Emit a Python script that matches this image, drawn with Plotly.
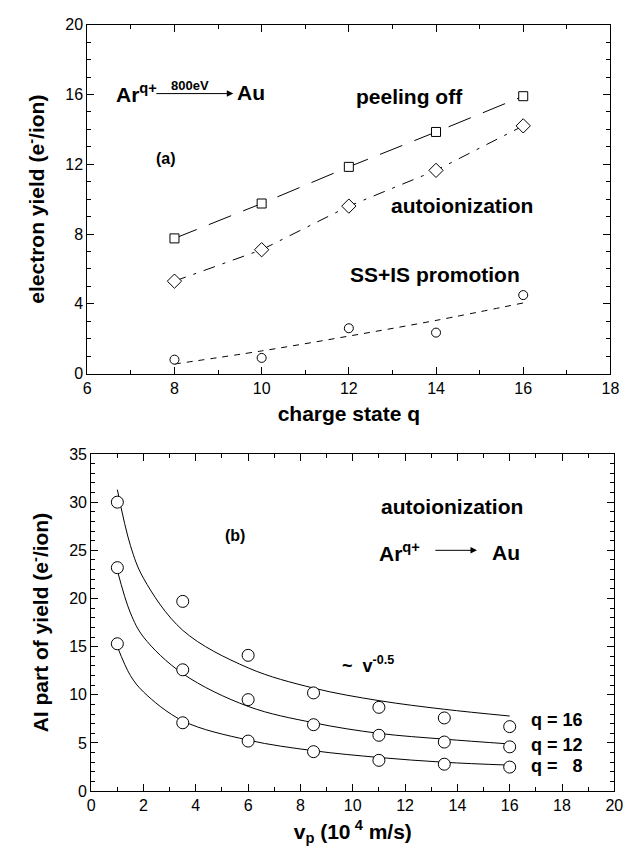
import plotly.graph_objects as go

# ---- data: panel (a) ----
q = [8, 10, 12, 14, 16]
peeling = [7.75, 9.75, 11.85, 13.85, 15.9]
autoion = [5.3, 7.1, 9.6, 11.65, 14.2]
ss_is = [0.8, 0.9, 2.6, 2.35, 4.5]
ss_fit = [0.55, 1.3, 2.15, 3.05, 4.05]

# ---- data: panel (b) ----
vp = [1, 3.5, 6, 8.5, 11, 13.5, 16]
ai_q16 = [30.0, 19.7, 14.1, 10.2, 8.7, 7.6, 6.7]
ai_q12 = [23.2, 12.6, 9.5, 6.9, 5.8, 5.1, 4.6]
ai_q8 = [15.3, 7.1, 5.2, 4.1, 3.2, 2.8, 2.5]
fit_v = [1, 1.5, 2, 3.5, 6, 8.5, 11, 13.5, 16]
fit_q16 = [31.3, 25.5, 22.1, 16.7, 12.8, 10.7, 9.4, 8.5, 7.8]
fit_q12 = [22.9, 18.5, 16.0, 12.2, 8.8, 7.1, 6.0, 5.4, 4.9]
fit_q8 = [15.0, 12.0, 10.3, 7.3, 5.3, 4.2, 3.5, 3.0, 2.7]

FONT = "Liberation Sans, Arial, sans-serif"
W, H = 639, 858

fig = go.Figure()

def mk(symbol, size):
    return dict(symbol=symbol, size=size, color="white", line=dict(color="black", width=1))

# panel (a)
fig.add_trace(go.Scatter(x=q, y=peeling, mode="lines+markers", xaxis="x", yaxis="y",
                         line=dict(color="black", width=1, dash="24px,13px"), marker=mk("square", 9)))
fig.add_trace(go.Scatter(x=q, y=autoion, mode="lines+markers", xaxis="x", yaxis="y",
                         line=dict(color="black", width=1, dash="12px,8px,3px,8px"), marker=mk("diamond", 11)))
fig.add_trace(go.Scatter(x=q, y=ss_fit, mode="lines", xaxis="x", yaxis="y", line_shape="spline",
                         line=dict(color="black", width=1, dash="6px,6px")))
fig.add_trace(go.Scatter(x=q, y=ss_is, mode="markers", xaxis="x", yaxis="y", marker=mk("circle", 9)))

# panel (b)
for fy in (fit_q16, fit_q12, fit_q8):
    fig.add_trace(go.Scatter(x=fit_v, y=fy, mode="lines", xaxis="x2", yaxis="y2", line_shape="spline",
                             line=dict(color="black", width=1)))
for ay in (ai_q16, ai_q12, ai_q8):
    fig.add_trace(go.Scatter(x=vp, y=ay, mode="markers", xaxis="x2", yaxis="y2", marker=mk("circle", 12)))

tickfont = dict(family=FONT, size=16, color="black")
titlefont = dict(family=FONT, size=21, color="black", weight="bold")

def axis(rng, dtick, domain, anchor, title, standoff):
    return dict(range=rng, dtick=dtick, domain=domain, anchor=anchor,
                showline=True, linecolor="black", linewidth=1, mirror="allticks",
                ticks="inside", ticklen=7, tickcolor="black", tickwidth=1,
                minor=dict(dtick=1, ticks="inside", ticklen=4, tickcolor="black"),
                showgrid=False, zeroline=False, tickfont=tickfont,
                title=dict(text=title, font=titlefont, standoff=standoff))

xd = [85 / W, 619 / W]
yd_a = [1 - 373 / H, 1 - 17 / H]
xd_b = [89 / W, 623 / W]
yd_b = [1 - 799 / H, 1 - 455 / H]

fig.update_layout(
    width=W, height=H, margin=dict(l=0, r=0, t=0, b=0),
    paper_bgcolor="white", plot_bgcolor="white", showlegend=False,
    font=dict(family=FONT, color="black", size=16),
    xaxis=axis([6, 18], 2, xd, "y", "charge state q", 10),
    yaxis=axis([0, 20], 4, yd_a, "x", "electron yield (e<sup>-</sup>/ion)", 14),
    xaxis2=axis([0, 20], 2, xd_b, "y2", "v<sub>p</sub> (10<sup> 4</sup> m/s)", 10),
    yaxis2=axis([0, 35], 5, yd_b, "x2", "AI part of yield (e<sup>-</sup>/ion)", 14),
)

def txt(x, y, text, ref, size=21, xanchor="center"):
    f = dict(family=FONT, size=size, color="black", weight="bold")
    fig.add_annotation(x=x, y=y, xref="x" if ref == "a" else "x2", yref="y" if ref == "a" else "y2",
                       text=text, showarrow=False, font=f, xanchor=xanchor)

def arrow(x0, x1, y, ref):
    fig.add_annotation(x=x1, y=y, ax=x0, ay=y, xref="x" if ref == "a" else "x2",
                       yref="y" if ref == "a" else "y2",
                       axref="x" if ref == "a" else "x2", ayref="y" if ref == "a" else "y2",
                       text="", showarrow=True, arrowhead=2, arrowsize=1.3, arrowwidth=1, arrowcolor="black",
                       font=dict(size=12))

# panel (a) annotations
txt(6.62, 16.1, "Ar<sup>q+</sup>", "a", xanchor="left")
arrow(7.55, 9.35, 16.05, "a")
txt(8.36, 16.5, "800eV", "a", size=13)
txt(9.4, 16.1, "Au", "a", xanchor="left")
txt(13.4, 15.9, "peeling off", "a")
txt(7.8, 12.35, "(a)", "a", size=16)
txt(14.6, 9.65, "autoionization", "a")
txt(13.97, 5.7, "SS+IS promotion", "a")

# panel (b) annotations
txt(5.5, 26.5, "(b)", "b", size=16)
txt(13.8, 29.6, "autoionization", "b")
txt(10.94, 24.8, "Ar<sup>q+</sup>", "b", xanchor="left")
arrow(13.1, 14.75, 25.0, "b")
txt(15.24, 24.8, "Au", "b", xanchor="left")
txt(10.6, 13.1, "~  v<sup>-0.5</sup>", "b", size=18)
txt(16.75, 7.4, "q = 16", "b", size=18, xanchor="left")
txt(16.75, 4.8, "q = 12", "b", size=18, xanchor="left")
txt(16.75, 2.6, "q =   8", "b", size=18, xanchor="left")

fig.write_html("out.html")
